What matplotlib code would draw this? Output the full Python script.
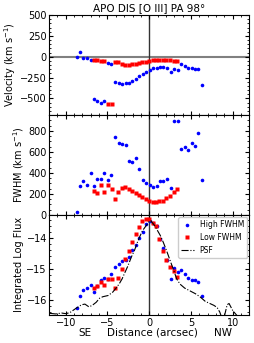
import matplotlib
matplotlib.use("Agg")
import matplotlib.pyplot as plt
from matplotlib.ticker import AutoMinorLocator, MultipleLocator

# Positions along the slit (arcsec) for each kinematic component
high_x = [-8.69, -8.3, -7.9, -7.5, -7.02, -6.63, -6.23, -5.8, -5.36, -4.98,
          -4.56, -4.09, -3.61, -3.21, -2.82, -2.42, -2.02, -1.63, -1.23, -0.75,
          -0.36, 0.04, 0.51, 0.91, 1.31, 1.7, 2.18, 2.58, 2.98, 3.41,
          3.85, 4.25, 4.64, 5.08, 5.48, 5.87, 6.35]
low_x = [-6.6, -6.2, -5.78, -5.38, -4.94, -4.5, -4.08, -3.68, -3.28, -2.88,
         -2.44, -2.04, -1.64, -1.24, -0.82, -0.42, 0.0, 0.42, 0.8, 1.2,
         1.62, 2.04, 2.44, 2.96, 3.37]

# Velocities (km/s)
high_vel = [0, 60, -20, -20, -45, -510, -528, -551, -528, -72,
            -88, -306, -321, -330, -321, -310, -287, -265, -236, -205,
            -180, -160, -140, -131, -129, -123, -139, -187, -147, -163,
            -88, -110, -133, -141, -143, -143, -341]
low_vel = [-45, -45, -48, -50, -567, -567, -60, -67, -83, -100,
           -100, -92, -83, -75, -67, -60, -52, -36, -36, -36,
           -36, -38, -45, -52, -52]

# FWHM (km/s)
high_fwhm = [29, 276, 321, 289, 403, 276, 346, 340, 403, 333,
             384, 740, 686, 674, 664, 511, 503, 543, 441, 330,
             302, 289, 270, 276, 321, 321, 343, 254, 892, 892,
             631, 646, 619, 680, 654, 778, 336]
low_fwhm = [232, 212, 283, 219, 283, 251, 149, 219, 257, 270,
            251, 232, 212, 193, 174, 155, 136, 124, 124, 130,
            130, 162, 181, 219, 251]

# Integrated log flux
high_flux = [-16.29, -15.87, -15.70, -15.64, -15.53, -15.76, -15.57, -15.37, -15.29, -15.33,
             -15.18, -14.94, -14.85, -14.75, -14.70, -14.62, -14.39, -14.22, -14.0, -13.81,
             -13.53, -13.44, -13.5, -13.62, -14.04, -14.34, -14.70, -15.33, -14.97, -15.11,
             -15.05, -15.17, -15.30, -15.35, -15.38, -15.42, -15.87]
low_flux = [-15.61, -15.55, -15.44, -15.53, -15.33, -15.33, -15.64, -15.31, -15.01, -14.69,
            -14.43, -14.13, -13.87, -13.64, -13.46, -13.38, -13.38, -13.5, -13.62, -14.04,
            -14.42, -14.70, -14.93, -15.07, -15.27]

# PSF profile
psf_x = [-11.9, -11.2, -10.5, -10.0, -9.52, -9.05, -8.73, -8.1, -7.7, -7.22,
         -6.82, -6.35, -5.95, -5.56, -4.92, -4.37, -3.97, -3.57, -3.25, -2.94,
         -2.54, -2.14, -1.75, -1.43, -1.11, -0.8, -0.4, 0.0, 0.15, 0.52,
         0.91, 1.31, 1.7, 2.1, 2.5, 2.9, 3.29, 3.69, 4.25, 4.88,
         5.52, 6.07, 6.71, 7.26, 7.74, 8.13, 8.45, 8.7, 9.0, 9.33,
         9.56, 9.96, 10.28, 10.6]
psf_flux = [-16.45, -16.47, -16.44, -16.46, -16.43, -16.34, -16.28, -16.17, -16.15, -16.24,
            -16.19, -16.09, -15.96, -15.91, -15.87, -15.76, -15.63, -15.48, -15.33, -15.14,
            -14.9, -14.62, -14.39, -14.15, -13.94, -13.76, -13.61, -13.46, -13.43, -13.55,
            -13.72, -13.91, -14.15, -14.43, -14.73, -15.03, -15.33, -15.5, -15.63, -15.72,
            -15.81, -15.91, -16.06, -16.13, -16.19, -16.26, -16.41, -16.6, -16.55, -16.17,
            -16.13, -16.34, -16.45, -16.55]

plt.rcParams.update({
    "font.size": 7,
    "xtick.direction": "in",
    "ytick.direction": "in",
    "xtick.top": True,
    "ytick.right": True,
    "xtick.major.size": 3,
    "ytick.major.size": 3,
    "xtick.minor.size": 1.6,
    "ytick.minor.size": 1.6,
    "xtick.major.pad": 2,
    "ytick.major.pad": 1.5,
    "axes.linewidth": 0.8,
})

fig, axes = plt.subplots(3, 1, sharex=True, figsize=(2.54, 3.43), dpi=100)
fig.subplots_adjust(left=0.193, right=0.982, top=0.956, bottom=0.082, hspace=0)
ax_v, ax_w, ax_f = axes

ms_c = 2.6
ms_s = 2.4
lab_kw = dict(fontsize=7, labelpad=1.5)

# velocity
ax_v.axhline(0, color="gray", lw=1.5, zorder=1)
ax_v.plot(high_x, high_vel, "o", color="blue", ms=ms_c, mec="none")
ax_v.plot(low_x, low_vel, "s", color="red", ms=ms_s, mec="none")
ax_v.set_ylim(-700, 500)
ax_v.yaxis.set_major_locator(MultipleLocator(250))
ax_v.set_ylabel("Velocity (km s$^{-1}$)", **lab_kw)
ax_v.set_title("APO DIS [O III] PA 98\u00b0", fontsize=7.5, pad=3)

# FWHM
ax_w.plot(high_x, high_fwhm, "o", color="blue", ms=ms_c, mec="none")
ax_w.plot(low_x, low_fwhm, "s", color="red", ms=ms_s, mec="none")
ax_w.set_ylim(0, 950)
ax_w.yaxis.set_major_locator(MultipleLocator(200))
ax_w.set_ylabel("FWHM (km s$^{-1}$)", **lab_kw)

# flux
ax_f.plot(high_x, high_flux, "o", color="blue", ms=ms_c, mec="none", label="High FWHM")
ax_f.plot(low_x, low_flux, "s", color="red", ms=ms_s, mec="none", label="Low FWHM")
ax_f.plot(psf_x, psf_flux, "-.", color="black", lw=0.8, label="PSF")
ax_f.set_ylim(-16.5, -13.25)
ax_f.yaxis.set_major_locator(MultipleLocator(1))
ax_f.set_ylabel("Integrated Log Flux", **lab_kw)
ax_f.legend(loc="upper right", fontsize=5.5, handlelength=1.6,
            borderaxespad=0.3, labelspacing=0.5, framealpha=1)

for ax in axes:
    ax.axvline(0, color="0.2", lw=1, zorder=1)
    ax.xaxis.set_minor_locator(AutoMinorLocator())
    ax.yaxis.set_minor_locator(AutoMinorLocator())
    ax.tick_params(which="both", top=True, right=True)

ax_f.set_xlim(-12, 12)
ax_f.xaxis.set_major_locator(MultipleLocator(5))

# x label with the SE / NW directions
trans = ax_f.get_xaxis_transform()
ax_f.text(-7.7, -0.18, "SE", transform=trans, ha="center", va="center", fontsize=7.5)
ax_f.text(0.4, -0.18, "Distance (arcsec)", transform=trans, ha="center", va="center", fontsize=7.5)
ax_f.text(8.8, -0.18, "NW", transform=trans, ha="center", va="center", fontsize=7.5)

fig.savefig("out.png", dpi=100)
